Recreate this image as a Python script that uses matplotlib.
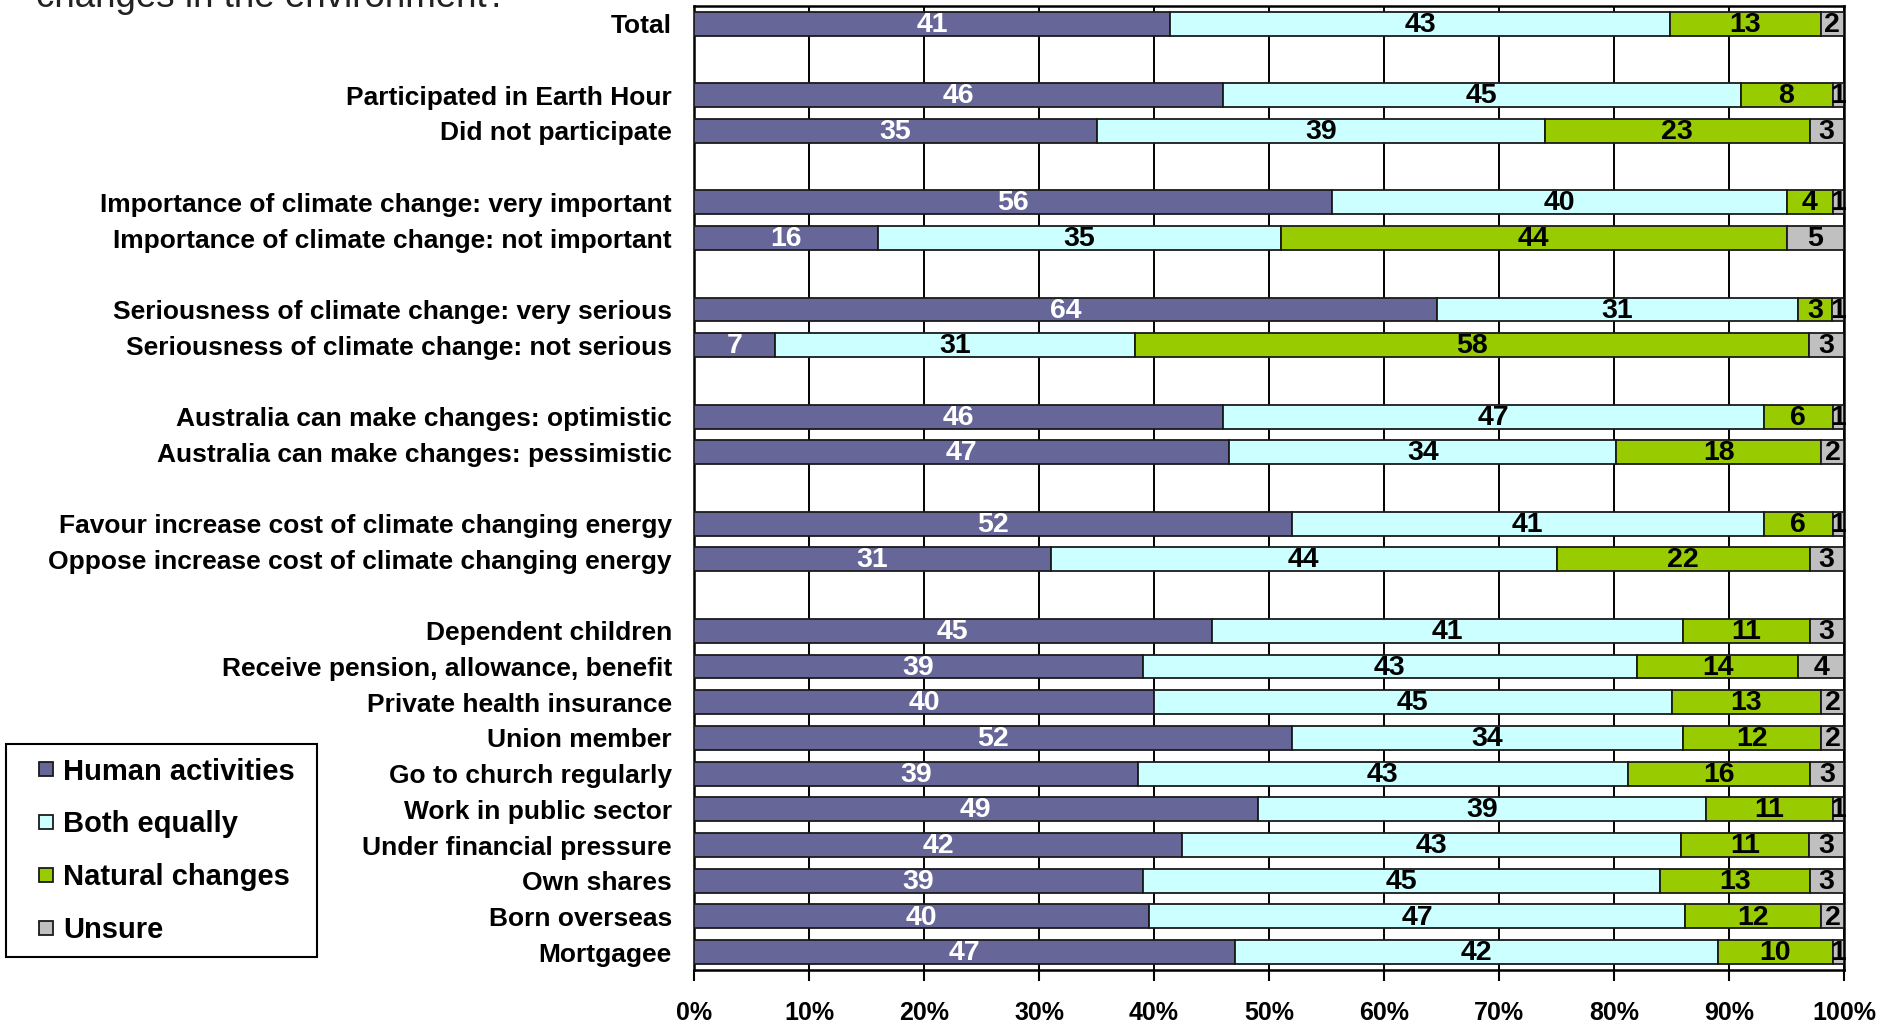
import matplotlib
matplotlib.use("Agg")
import matplotlib.pyplot as plt
from matplotlib.lines import Line2D
import numpy as np

categories = ["Total",
              "Participated in Earth Hour", "Did not participate",
              "Importance of climate change: very important", "Importance of climate change: not important",
              "Seriousness of climate change: very serious", "Seriousness of climate change: not serious",
              "Australia can make changes: optimistic", "Australia can make changes: pessimistic",
              "Favour increase cost of climate changing energy", "Oppose increase cost of climate changing energy",
              "Dependent children", "Receive pension, allowance, benefit", "Private health insurance",
              "Union member", "Go to church regularly", "Work in public sector", "Under financial pressure",
              "Own shares", "Born overseas", "Mortgagee"]
group_sizes = [1, 2, 2, 2, 2, 2, 10]

human = [41, 46, 35, 56, 16, 64, 7, 46, 47, 52, 31, 45, 39, 40, 52, 39, 49, 42, 39, 40, 47]
both = [43, 45, 39, 40, 35, 31, 31, 47, 34, 41, 44, 41, 43, 45, 34, 43, 39, 43, 45, 47, 42]
natural = [13, 8, 23, 4, 44, 3, 58, 6, 18, 6, 22, 11, 14, 13, 12, 16, 11, 11, 13, 12, 10]
unsure = [2, 1, 3, 1, 5, 1, 3, 1, 2, 1, 3, 3, 4, 2, 2, 3, 1, 3, 3, 2, 1]

series_names = ["Human activities", "Both equally", "Natural changes", "Unsure"]
colors = ["#666699", "#CCFFFF", "#99CC00", "#C0C0C0"]
text_colors = ["white", "black", "black", "black"]
fam = ["Liberation Sans", "DejaVu Sans"]

# row positions with a blank row between groups
pos = []
row = 0
for g in group_sizes:
    pos.extend(range(row, row + g))
    row += g + 1
pos = np.array(pos)

fig = plt.figure(figsize=(19, 10.22), dpi=100)
ax = fig.add_axes([694 / 1900, 1 - 970 / 1022, 1150 / 1900, 964 / 1022])

vals = np.array([human, both, natural, unsure], dtype=float)
shares = vals / vals.sum(axis=0) * 100
left = np.zeros(len(categories))
for i in range(4):
    ax.barh(pos, shares[i], left=left, height=0.67, color=colors[i],
            edgecolor="#1a1a1a", linewidth=1.3, zorder=3, label=series_names[i])
    for y, l, w, v in zip(pos, left, shares[i], vals[i]):
        ax.text(l + w / 2, y + 0.03, f"{int(v)}", ha="center", va="center",
                color=text_colors[i], fontsize=20.5, fontweight="bold",
                family=fam, zorder=4)
    left = left + shares[i]

ax.set_xlim(0, 100)
ax.set_ylim(pos[-1] + 0.5, -0.5)
ax.set_xticks(np.arange(0, 101, 10))
ax.set_xticklabels([f"{t}%" for t in range(0, 101, 10)], fontsize=18, fontweight="bold",
                   family=fam)
ax.set_yticks(pos)
ax.set_yticklabels(categories, fontsize=19, fontweight="bold", family=fam)
ax.tick_params(axis="y", length=0, pad=16)
ax.tick_params(axis="x", length=8, width=1.5, direction="out", pad=14)
ax.xaxis.grid(True, color="black", linewidth=1.4, zorder=0)
ax.set_axisbelow(True)
for s in ax.spines.values():
    s.set_linewidth(1.8)
    s.set_color("black")

handles = [Line2D([], [], linestyle="none", marker="s", markersize=10,
                  markerfacecolor=c, markeredgecolor="#1a1a1a", markeredgewidth=1.3)
           for c in colors]
leg = fig.legend(handles, series_names, loc="lower left", mode="expand",
                 bbox_to_anchor=(6 / 1900, 1 - 957 / 1022, 311 / 1900, 217 / 1022),
                 bbox_transform=fig.transFigure,
                 prop={"family": fam, "weight": "bold", "size": 21},
                 handlelength=1.86, handletextpad=-0.35,
                 labelspacing=0.85, borderpad=0.45, borderaxespad=0,
                 fancybox=False, framealpha=1)
leg.get_frame().set_edgecolor("black")
leg.get_frame().set_linewidth(1.5)

fig.text(36 / 1900, 1 - 7 / 1022, "changes in the environment?", fontsize=26.5,
         va="baseline", ha="left", color="#222222", family=fam)

fig.savefig("out.png", dpi=100)
